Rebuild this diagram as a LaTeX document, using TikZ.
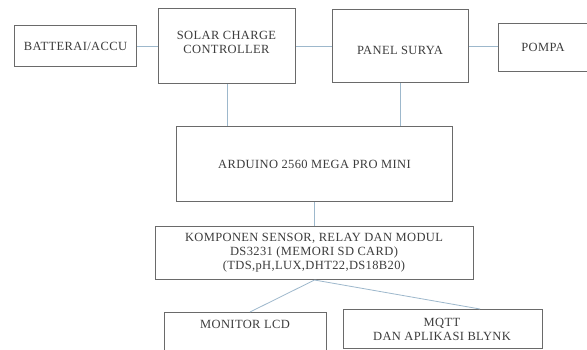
\documentclass[tikz,border=0pt]{standalone}
\usepackage{fontspec}
\setmainfont{Liberation Serif}[LetterSpace=3]
\definecolor{boxgray}{HTML}{6A6A6A}
\definecolor{txtgray}{HTML}{3C3C3C}
\definecolor{linkblue}{HTML}{9DB8CC}
\begin{document}
\begin{tikzpicture}[x=1pt,y=-1pt,
  box/.style={draw=boxgray, line width=1pt, fill=white, inner sep=0pt, anchor=north west,
    font=\fontsize{12.5}{14}\selectfont, text=txtgray, align=center},
  lbl/.style={inner sep=0pt, font=\fontsize{12.5}{14}\selectfont, text=txtgray, align=center},
  link/.style={draw=linkblue, line width=0.8pt}]
\useasboundingbox[fill=white] (0,0) rectangle (587,349);
\node[box, minimum width=122pt, minimum height=41pt] (bat) at (14,25) {BATTERAI/ACCU};
\node[box, minimum width=137pt, minimum height=75pt] (scc) at (158,8) {};
\node[lbl] (scct) at (226.5,42) {SOLAR CHARGE\\CONTROLLER};
\node[box, minimum width=136pt, minimum height=73pt] (pan) at (332,9) {};
\node[lbl] (pant) at (400,50) {PANEL SURYA};
\node[box, minimum width=89pt, minimum height=48pt] (pom) at (498,23) {POMPA};
\node[box, minimum width=276pt, minimum height=75pt] (ard) at (176,126) {ARDUINO 2560 MEGA PRO MINI};
\node[box, minimum width=318pt, minimum height=53pt] (kom) at (155,226) {};
\node[lbl] (komt) at (314,253) {KOMPONEN SENSOR, RELAY DAN MODUL\\DS3231 (MEMORI SD CARD)\\(TDS,pH,LUX,DHT22,DS18B20)};
\node[box, minimum width=162pt, minimum height=42pt] (mon) at (164,312) {};
\node[lbl] (mont) at (245,324) {MONITOR LCD};
\node[box, minimum width=199pt, minimum height=39pt] (mqtt) at (343,309) {};
\node[lbl] (mqttt) at (442,329) {MQTT\\DAN APLIKASI BLYNK};
\coordinate (monin) at (250,312);
\coordinate (mqttin) at (480,309);
\draw[link] (bat.east) -- (scc.west);
\draw[link] (scc.east) -- (pan.west);
\draw[link] (pan.east) -- (pan.east -| pom.west);
\draw[link] (scc.south) -- (scc.south |- ard.north);
\draw[link] (pan.south) -- (pan.south |- ard.north);
\draw[link] (ard.south) -- (kom.north);
\draw[link] (kom.south) -- (monin);
\draw[link] (kom.south) -- (mqttin);
\end{tikzpicture}
\end{document}
